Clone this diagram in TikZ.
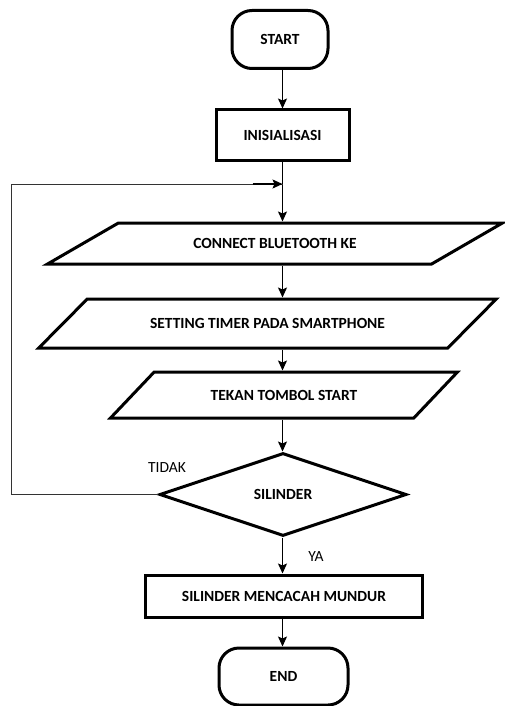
\documentclass[tikz,border=0pt]{standalone}
\usepackage{fontspec}
\setmainfont{Carlito}
\usetikzlibrary{shapes.geometric,arrows.meta}

\begin{document}
\begin{tikzpicture}[x=1pt,y=-1pt,
    font=\fontsize{15.5}{18}\selectfont,
    shapeline/.style={draw, line width=3pt, font=\fontsize{15.5}{18}\selectfont\bfseries},
    terminal/.style={shapeline, rectangle, rounded corners=20pt},
    process/.style={shapeline, rectangle},
    io/.style={shapeline, trapezium, trapezium stretches=true},
    decision/.style={shapeline, diamond},
    flow/.style={line width=1.4pt, -{Stealth[length=10pt,width=9pt,inset=2pt]}},
    loopline/.style={line width=1pt, gray!40!black}]
    % Frame
    \useasboundingbox (0,0) rectangle (505,706);

    % Main column
    \node[terminal, minimum width=96, minimum height=58] (start) at (280,39.5) {START};
    \node[process, minimum width=133, minimum height=50] (init) at (282.5,135) {INISIALISASI};
    \node[io, trapezium left angle=23.8, trapezium right angle=156.2,
          minimum width=456, minimum height=41] (conn) at (275,243.5) {CONNECT BLUETOOTH KE};
    \node[io, trapezium left angle=27.5, trapezium right angle=152.5,
          minimum width=459, minimum height=49] (timer) at (267.5,323.5) {SETTING TIMER PADA SMARTPHONE};
    \node[io, trapezium left angle=33.3, trapezium right angle=146.7,
          minimum width=348, minimum height=46] (press) at (284,395) {TEKAN TOMBOL START};
    \node[decision, minimum width=247, minimum height=83] (cyl) at (283,494.5) {SILINDER};
    \node[process, minimum width=277, minimum height=42] (count) at (284,596) {SILINDER MENCACAH MUNDUR};
    \node[terminal, minimum width=129, minimum height=57] (stop) at (283.5,676.5) {END};

    % Loop back points
    \coordinate (merge) at (282.5,184);
    \coordinate (rail) at (11,494.5);

    % Labels
    \node (no) at (167,468) {TIDAK};
    \node (yes) at (316,557) {YA};

    % Arrows
    \draw[flow] (init |- start.south) -- (init.north);
    \draw[flow] (init.south) -- (init.south |- conn.north);
    \draw[flow] (init |- conn.south) -- (init |- timer.north);
    \draw[flow] (init |- timer.south) -- (init |- press.north);
    \draw[flow] (init |- press.south) -- (init |- cyl.north);
    \draw[flow] (init |- cyl.south) -- (init |- count.north);
    \draw[flow] (init |- count.south) -- (init |- stop.north);

    % Back to bluetooth
    \draw[loopline] (cyl.west) -- (rail) |- (merge);
    \draw[flow, line width=1.2pt] ([xshift=-30pt]merge) -- (merge);

\end{tikzpicture}
\end{document}
